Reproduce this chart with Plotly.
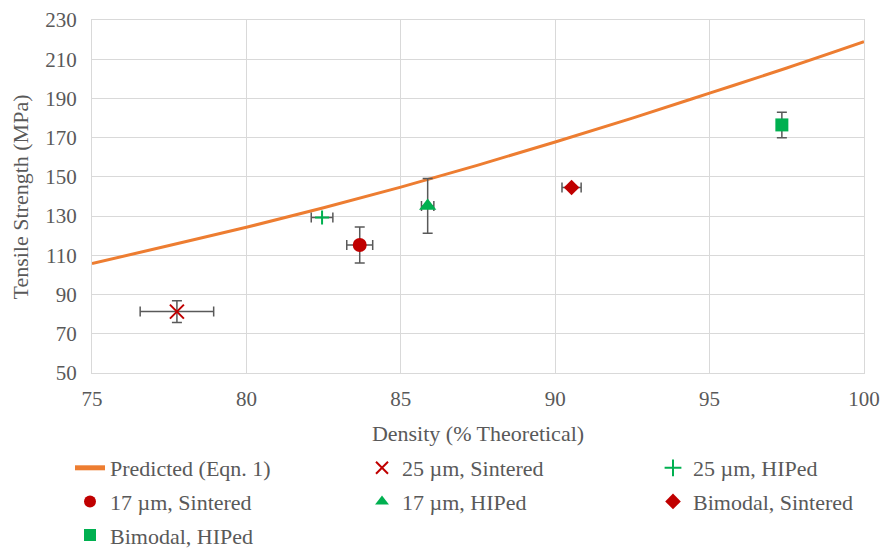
import plotly.graph_objects as go

# Predicted curve (Eqn. 1)
pred_x = [75, 77.5, 80, 82.5, 85, 87.5, 90, 92.5, 95, 97.5, 100]
pred_y = [105.8, 115.0, 124.3, 134.3, 144.8, 156.0, 167.8, 180.0, 192.7, 205.5, 218.9]

# Measured points: name, x, y, x error, y error
names = ["25 µm, Sintered", "25 µm, HIPed", "17 µm, Sintered", "17 µm, HIPed",
         "Bimodal, Sintered", "Bimodal, HIPed"]
dens = [77.75, 82.45, 83.67, 85.87, 90.53, 97.34]
strength = [81.3, 129.3, 115.3, 135.2, 144.6, 176.5]
dens_err = [1.19, 0.35, 0.42, 0.2, 0.31, 0.0]
str_err = [5.5, 0.0, 9.2, 14.0, 0.0, 6.5]

x_ticks = [75, 80, 85, 90, 95, 100]
y_ticks = [50, 70, 90, 110, 130, 150, 170, 190, 210, 230]

RED = "#c00000"
GREEN = "#00b050"
ORANGE = "#ed7d31"
ERR = "#595959"
TXT = "#595959"
GRID = "#d9d9d9"
FONT = "Liberation Serif"

styles = [
    dict(symbol="x-thin-open", color=RED, size=14, line=dict(color=RED, width=2)),
    dict(symbol="cross-thin-open", color=GREEN, size=10, line=dict(color=GREEN, width=2)),
    dict(symbol="circle", color=RED, size=14, line=dict(width=0)),
    dict(symbol="triangle-up", color=GREEN, size=15, line=dict(width=0)),
    dict(symbol="diamond", color=RED, size=12, line=dict(width=0)),
    dict(symbol="square", color=GREEN, size=13, line=dict(width=0)),
]
legend_of = ["legend2", "legend3", "legend", "legend2", "legend3", "legend"]

fig = go.Figure()
fig.add_trace(go.Scatter(x=pred_x, y=pred_y, mode="lines", name="Predicted (Eqn. 1)",
                         line=dict(color=ORANGE, width=3, shape="spline"),
                         legend="legend", legendgroup="g0", legendrank=1))
for i, n in enumerate(names):
    fig.add_trace(go.Scatter(
        x=[dens[i]], y=[strength[i]], mode="markers", name=n,
        marker=styles[i], legend=legend_of[i], legendgroup=f"g{i+1}", legendrank=2 + i,
        error_x=dict(type="data", array=[dens_err[i]], visible=dens_err[i] > 0,
                     color=ERR, thickness=1.5, width=5),
        error_y=dict(type="data", array=[str_err[i]], visible=str_err[i] > 0,
                     color=ERR, thickness=1.5, width=5),
    ))

leg_common = dict(xref="container", yref="container", xanchor="left", yanchor="top",
                  orientation="v", bgcolor="rgba(0,0,0,0)",
                  font=dict(family=FONT, size=22, color=TXT), tracegroupgap=2,
                  itemsizing="constant")
LEG_Y = 1 - 447 / 549
fig.update_layout(
    width=885, height=549,
    margin=dict(l=92, r=21, t=20, b=176, autoexpand=False),
    paper_bgcolor="white", plot_bgcolor="white",
    font=dict(family=FONT, size=21, color=TXT),
    xaxis=dict(range=[75, 100], tickvals=x_ticks, showgrid=True, gridcolor=GRID,
               gridwidth=1.3, zeroline=False, showline=True, linecolor=GRID,
               linewidth=1.3, mirror=True, ticks="outside", ticklen=7,
               tickcolor="rgba(0,0,0,0)", automargin=False,
               tickfont=dict(family=FONT, size=21, color=TXT),
               title=dict(text="Density (% Theoretical)",
                          font=dict(family=FONT, size=22, color=TXT))),
    yaxis=dict(range=[50, 230], tickvals=y_ticks, showgrid=True, gridcolor=GRID,
               gridwidth=1.3, zeroline=False, showline=True, linecolor=GRID,
               linewidth=1.3, mirror=True, ticks="outside", ticklen=10,
               tickcolor="rgba(0,0,0,0)", automargin=False,
               tickfont=dict(family=FONT, size=21, color=TXT)),
    legend=dict(x=70 / 885, y=LEG_Y, **leg_common),
    legend2=dict(x=362 / 885, y=LEG_Y, **leg_common),
    legend3=dict(x=653 / 885, y=LEG_Y, **leg_common),
    annotations=[dict(text="Tensile Strength (MPa)", textangle=-90,
                      xref="paper", yref="paper", x=-0.092, y=0.5,
                      xanchor="center", yanchor="middle", showarrow=False,
                      font=dict(family=FONT, size=22, color=TXT))],
)

fig.write_html("out.html")
